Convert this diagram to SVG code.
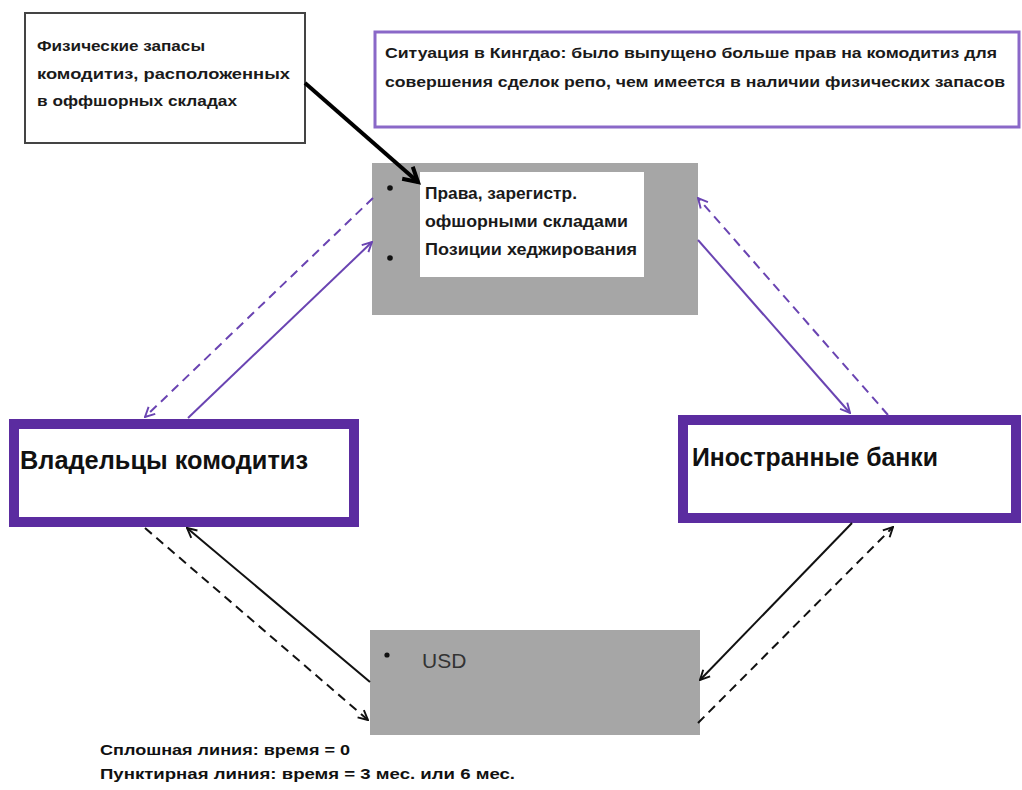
<svg xmlns="http://www.w3.org/2000/svg" width="1022" height="790" viewBox="0 0 1022 790">
<defs>
<style>
.t{font-family:"Liberation Sans",Arial,sans-serif;font-weight:bold;fill:#1a1a1a}
.note{font-size:15px}
.node{font-size:25px;fill:#111}
.legend{font-size:14px;fill:#111}
.pl{stroke:#6a44b2;stroke-width:2;fill:none}
.bl{stroke:#111;stroke-width:2;fill:none}
.dash{stroke-dasharray:9 6}
</style>
<marker id="ap" viewBox="0 0 10 10" refX="9" refY="5" markerWidth="12" markerHeight="12" markerUnits="userSpaceOnUse" orient="auto">
<path d="M1,1 L9,5 L1,9" fill="none" stroke="#6a44b2" stroke-width="1.6"/>
</marker>
<marker id="ab" viewBox="0 0 10 10" refX="9" refY="5" markerWidth="12" markerHeight="12" markerUnits="userSpaceOnUse" orient="auto">
<path d="M1,1 L9,5 L1,9" fill="none" stroke="#111" stroke-width="1.6"/>
</marker>
<marker id="abig" viewBox="0 0 10 10" refX="8" refY="5" markerWidth="20" markerHeight="20" markerUnits="userSpaceOnUse" orient="auto">
<path d="M1,1 L8,5 L1,9" fill="none" stroke="#000" stroke-width="2"/>
</marker>
</defs>
<rect width="1022" height="790" fill="#ffffff"/>

<g id="note-stocks">
<rect x="25" y="13" width="280" height="130" fill="#fff" stroke="#444" stroke-width="2"/>
<text class="t note" x="37" y="51" textLength="168" lengthAdjust="spacingAndGlyphs">Физические запасы</text>
<text class="t note" x="37" y="79" textLength="253" lengthAdjust="spacingAndGlyphs">комодитиз, расположенных</text>
<text class="t note" x="37" y="106" textLength="200" lengthAdjust="spacingAndGlyphs">в оффшорных складах</text>
</g>

<g id="note-qingdao">
<rect x="375" y="32" width="644" height="95" fill="#fff" stroke="#8a68c8" stroke-width="3"/>
<text class="t note" x="385" y="58" textLength="612" lengthAdjust="spacingAndGlyphs">Ситуация в Кингдао: было выпущено больше прав на комодитиз для</text>
<text class="t note" x="385" y="87" textLength="620" lengthAdjust="spacingAndGlyphs">совершения сделок репо, чем имеется в наличии физических запасов</text>
</g>

<g id="rights">
<rect x="372" y="163" width="326" height="152" fill="#a6a6a6"/>
<rect x="420" y="172" width="224" height="105" fill="#fff"/>
<circle cx="390" cy="188" r="2.8" fill="#111"/>
<circle cx="390" cy="258" r="2.8" fill="#111"/>
<text class="t" font-size="16" x="425" y="199" textLength="152" lengthAdjust="spacingAndGlyphs">Права, зарегистр.</text>
<text class="t" font-size="16" x="425" y="227" textLength="203" lengthAdjust="spacingAndGlyphs">офшорными складами</text>
<text class="t" font-size="16" x="425" y="255" textLength="212" lengthAdjust="spacingAndGlyphs">Позиции хеджирования</text>
</g>

<g id="owners">
<rect x="14" y="424" width="340" height="98" fill="#fff" stroke="#5b2ca0" stroke-width="10"/>
<text class="t node" x="20" y="469" textLength="288" lengthAdjust="spacingAndGlyphs">Владельцы комодитиз</text>
</g>

<g id="banks">
<rect x="683" y="420" width="333" height="98" fill="#fff" stroke="#5b2ca0" stroke-width="10"/>
<text class="t node" x="692" y="466" textLength="246" lengthAdjust="spacingAndGlyphs">Иностранные банки</text>
</g>

<g id="usd">
<rect x="370" y="630" width="330" height="105" fill="#a6a6a6"/>
<circle cx="387" cy="655" r="2.6" fill="#111"/>
<text x="422" y="668" font-family="Liberation Sans, Arial, sans-serif" font-size="21" fill="#333">USD</text>
</g>

<g id="connectors">
<line x1="305" y1="83" x2="418" y2="182" style="stroke:#000;stroke-width:4" marker-end="url(#abig)"/>
<line class="pl dash" x1="373" y1="198" x2="145" y2="417" marker-end="url(#ap)"/>
<line class="pl" x1="188" y1="418" x2="372" y2="242" marker-end="url(#ap)"/>
<line class="pl" x1="698" y1="240" x2="850" y2="413" marker-end="url(#ap)"/>
<line class="pl dash" x1="888" y1="415" x2="698" y2="198" marker-end="url(#ap)"/>
<line class="bl" x1="370" y1="682" x2="187" y2="528" marker-end="url(#ab)"/>
<line class="bl dash" x1="145" y1="528" x2="368" y2="720" marker-end="url(#ab)"/>
<line class="bl" x1="852" y1="523" x2="700" y2="680" marker-end="url(#ab)"/>
<line class="bl dash" x1="698" y1="723" x2="893" y2="527" marker-end="url(#ab)"/>
</g>

<g id="legend">
<text class="t legend" x="100" y="755" textLength="250" lengthAdjust="spacingAndGlyphs">Сплошная линия: время = 0</text>
<text class="t legend" x="100" y="779" textLength="415" lengthAdjust="spacingAndGlyphs">Пунктирная линия: время = 3 мес. или 6 мес.</text>
</g>
</svg>
